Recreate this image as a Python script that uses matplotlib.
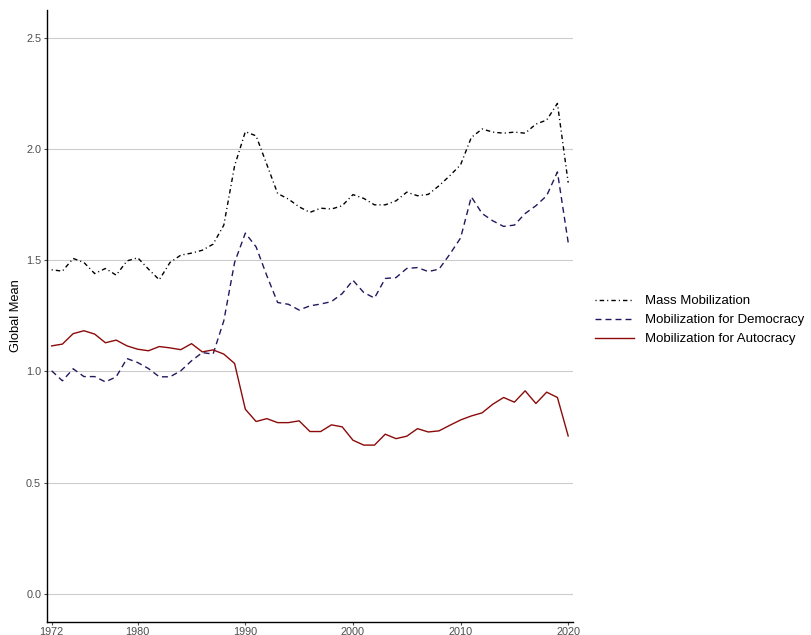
import matplotlib
matplotlib.use("Agg")
import matplotlib.pyplot as plt

# Global means by year
years = list(range(1972, 2021))

mass_mobilization = [
    1.457, 1.451, 1.508, 1.490, 1.440, 1.463, 1.433, 1.497, 1.511, 1.460,
    1.412, 1.490, 1.523, 1.532, 1.545, 1.572, 1.658, 1.924, 2.078, 2.059,
    1.930, 1.800, 1.775, 1.740, 1.715, 1.734, 1.730, 1.745, 1.795, 1.778,
    1.749, 1.749, 1.767, 1.806, 1.790, 1.796, 1.835, 1.880, 1.929, 2.052,
    2.090, 2.076, 2.071, 2.076, 2.071, 2.112, 2.130, 2.205, 1.849,
]
democracy = [
    1.003, 0.958, 1.012, 0.977, 0.977, 0.953, 0.976, 1.058, 1.040, 1.013,
    0.976, 0.976, 1.003, 1.048, 1.085, 1.078, 1.228, 1.490, 1.622, 1.560,
    1.430, 1.310, 1.302, 1.276, 1.295, 1.303, 1.314, 1.350, 1.410, 1.355,
    1.330, 1.418, 1.422, 1.463, 1.467, 1.449, 1.460, 1.527, 1.600, 1.785,
    1.710, 1.677, 1.652, 1.658, 1.710, 1.745, 1.790, 1.897, 1.580,
]
autocracy = [
    1.115, 1.123, 1.170, 1.183, 1.168, 1.129, 1.141, 1.115, 1.100, 1.093,
    1.112, 1.106, 1.098, 1.125, 1.088, 1.097, 1.078, 1.036, 0.830, 0.775,
    0.788, 0.770, 0.770, 0.778, 0.730, 0.730, 0.760, 0.751, 0.691, 0.669,
    0.669, 0.718, 0.698, 0.709, 0.743, 0.728, 0.733, 0.758, 0.782, 0.800,
    0.814, 0.853, 0.883, 0.862, 0.913, 0.856, 0.907, 0.883, 0.710,
]

series_labels = ["Mass Mobilization", "Mobilization for Democracy", "Mobilization for Autocracy"]
x_ticks = [1972, 1980, 1990, 2000, 2010, 2020]
y_ticks = [0.0, 0.5, 1.0, 1.5, 2.0, 2.5]

plt.rcParams["font.family"] = ["Liberation Sans", "DejaVu Sans"]

fig = plt.figure(figsize=(8.12, 6.35), dpi=100)
ax = fig.add_axes([0.0575, 0.0209, 0.6478, 0.9634])

ax.plot(years, mass_mobilization, color="black", lw=1.0,
        dashes=(0.8, 2.2, 3.2, 2.2), label=series_labels[0])
ax.plot(years, democracy, color="#24175f", lw=1.0,
        dashes=(4.3, 2.9), label=series_labels[1])
ax.plot(years, autocracy, color="#8b0a0a", lw=1.0, label=series_labels[2])

ax.set_xlim(1971.54, 2020.42)
ax.set_ylim(-0.125, 2.625)
ax.set_xticks(x_ticks)
ax.set_yticks(y_ticks)
ax.set_yticklabels([f"{v:.1f}" for v in y_ticks])

ax.grid(axis="y", color="#cccccc", lw=0.8)
ax.set_axisbelow(True)
for side in ["top", "right"]:
    ax.spines[side].set_visible(False)
for side in ["left", "bottom"]:
    ax.spines[side].set_color("black")
    ax.spines[side].set_linewidth(1.0)

ax.tick_params(axis="both", labelsize=7.8, colors="#4d4d4d", length=2.5, width=0.8, pad=1.5)
ax.set_ylabel("Global Mean", fontsize=9.3, color="black", labelpad=2.5)

ax.legend(loc="center left", bbox_to_anchor=(1.019, 0.493), frameon=False,
          fontsize=9.5, handlelength=3.0, handletextpad=0.85, labelspacing=0.52)

fig.savefig("out.png", dpi=100)
